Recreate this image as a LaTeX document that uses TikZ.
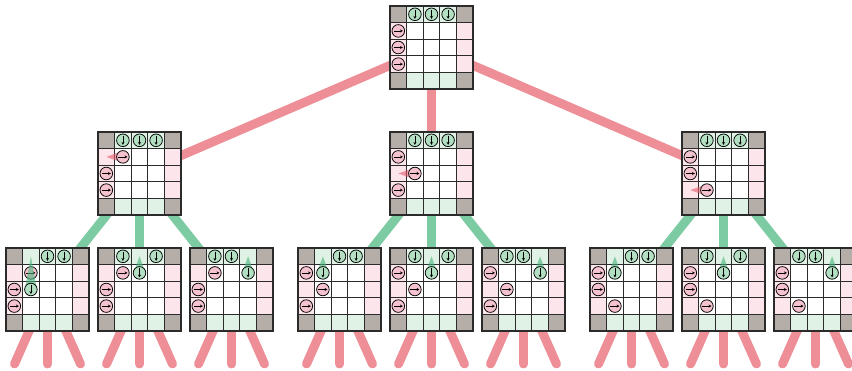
\documentclass[tikz,border=0pt]{standalone}
\usetikzlibrary{arrows.meta}
\definecolor{graycell}{HTML}{B5ADA8}
\definecolor{pinkcell}{HTML}{FCE5EB}
\definecolor{greencell}{HTML}{E0F2E5}
\definecolor{pinkfill}{HTML}{F5C3D0}
\definecolor{greenfill}{HTML}{B3DFC3}
\definecolor{pinkline}{HTML}{EE8F97}
\definecolor{greenline}{HTML}{7DCBA2}
\definecolor{pinktr}{HTML}{E65A6C}
\definecolor{greentr}{HTML}{45B57A}
\definecolor{gridcol}{HTML}{2B2B2B}
\tikzset{
  gridbox/.style={rectangle, minimum size=83pt, inner sep=0pt, outer sep=0pt, draw=none},
  pinkedge/.style={draw=pinkline, line width=9pt},
  greenedge/.style={draw=greenline, line width=9pt},
  leafedge/.style={draw=pinkline, line width=9pt, line cap=round},
  gline/.style={draw=gridcol, line width=1.2pt},
  circ/.style={draw=black, line width=0.75pt},
  arr/.style={draw=black, line width=0.7pt, -{Stealth[length=2.8pt,width=3pt]}},
  pinktrail/.style={fill=pinktr, fill opacity=0.6},
  greentrail/.style={fill=greentr, fill opacity=0.6},
}
\newcommand{\gridbase}{%
  \fill[white] (0,0) rectangle (83,83);
  \fill[graycell] (0,0) rectangle (16.6,16.6) (66.4,0) rectangle (83,16.6)
     (0,66.4) rectangle (16.6,83) (66.4,66.4) rectangle (83,83);
  \fill[greencell] (16.6,0) rectangle (66.4,16.6) (16.6,66.4) rectangle (66.4,83);
  \fill[pinkcell] (0,16.6) rectangle (16.6,66.4) (66.4,16.6) rectangle (83,66.4);
  \foreach \i in {1,...,4} {
    \draw[gline] (\i*16.6,0) -- (\i*16.6,83);
    \draw[gline] (0,\i*16.6) -- (83,\i*16.6);
  }
  \draw[gline] (0,0) rectangle (83,83);
}
\newcommand{\pcirc}[2]{%
  \draw[circ,fill=pinkfill] ({(#1+.5)*16.6},{(#2+.5)*16.6}) circle[radius=6.3];
  \draw[arr] ({(#1+.5)*16.6-4.5},{(#2+.5)*16.6}) -- ++(9,0);}
\newcommand{\gcirc}[2]{%
  \draw[circ,fill=greenfill] ({(#1+.5)*16.6},{(#2+.5)*16.6}) circle[radius=6.3];
  \draw[arr] ({(#1+.5)*16.6},{(#2+.5)*16.6-4.5}) -- ++(0,9);}
% pink trail: row #3, from col #1 to col #2
\newcommand{\ptrail}[3]{%
  \fill[pinktrail] ({(#1+.5)*16.6},{(#3+.5)*16.6}) -- ({(#2+.5)*16.6},{(#3+.5)*16.6-6})
     -- ({(#2+.5)*16.6},{(#3+.5)*16.6+6}) -- cycle;}
% green trail: col #1, from row #2 to row #3
\newcommand{\gtrail}[3]{%
  \fill[greentrail] ({(#1+.5)*16.6},{(#2+.5)*16.6}) -- ({(#1+.5)*16.6-6},{(#3+.5)*16.6})
     -- ({(#1+.5)*16.6+6},{(#3+.5)*16.6}) -- cycle;}
\newcommand{\gridat}[2]{\begin{scope}[shift={(#1.north west)}]\gridbase #2\end{scope}}
\begin{document}
\begin{tikzpicture}[x=1pt,y=-1pt]
\useasboundingbox (0,0) rectangle (852,371);
\clip (0,0) rectangle (852,371);
% grid nodes
\node[gridbox] (t) at (431.5,47.5) {};
\node[gridbox] (a) at (139.5,173.5) {};
\node[gridbox] (b) at (431.5,173.5) {};
\node[gridbox] (c) at (723.5,173.5) {};
\node[gridbox] (A) at (47.5,289.5) {};
\node[gridbox] (B) at (139.5,289.5) {};
\node[gridbox] (C) at (231.5,289.5) {};
\node[gridbox] (D) at (339.5,289.5) {};
\node[gridbox] (E) at (431.5,289.5) {};
\node[gridbox] (F) at (523.5,289.5) {};
\node[gridbox] (G) at (631.5,289.5) {};
\node[gridbox] (H) at (723.5,289.5) {};
\node[gridbox] (I) at (815.5,289.5) {};
% connectors
\draw[pinkedge] (t.center) -- (a.center);
\draw[pinkedge] (t.center) -- (b.center);
\draw[pinkedge] (t.center) -- (c.center);
\foreach \p/\k in {a/A,a/B,a/C,b/D,b/E,b/F,c/G,c/H,c/I}
  \draw[greenedge] (\p.center) -- (\k.center);
\foreach \k/\x in {A/47.5,B/139.5,C/231.5,D/339.5,E/431.5,F/523.5,G/631.5,H/723.5,I/815.5} {
  \coordinate (\k l) at (\x-33,364);
  \coordinate (\k m) at (\x,364);
  \coordinate (\k r) at (\x+33,364);
  \draw[leafedge] (\k.center) -- (\k l);
  \draw[leafedge] (\k.center) -- (\k m);
  \draw[leafedge] (\k.center) -- (\k r);
}
% grids
\gridat{t}{\pcirc{0}{1}\pcirc{0}{2}\pcirc{0}{3}\gcirc{1}{0}\gcirc{2}{0}\gcirc{3}{0}}
\gridat{a}{\pcirc{0}{2}\pcirc{0}{3}\gcirc{1}{0}\gcirc{2}{0}\gcirc{3}{0}\ptrail{0}{1}{1}\pcirc{1}{1}}
\gridat{b}{\pcirc{0}{1}\pcirc{0}{3}\gcirc{1}{0}\gcirc{2}{0}\gcirc{3}{0}\ptrail{0}{1}{2}\pcirc{1}{2}}
\gridat{c}{\pcirc{0}{1}\pcirc{0}{2}\gcirc{1}{0}\gcirc{2}{0}\gcirc{3}{0}\ptrail{0}{1}{3}\pcirc{1}{3}}
% under a
\gridat{A}{\pcirc{1}{1}\pcirc{0}{2}\pcirc{0}{3}\gcirc{2}{0}\gcirc{3}{0}\gtrail{1}{0}{2}\gcirc{1}{2}}
\gridat{B}{\pcirc{1}{1}\pcirc{0}{2}\pcirc{0}{3}\gcirc{1}{0}\gcirc{3}{0}\gtrail{2}{0}{1}\gcirc{2}{1}}
\gridat{C}{\pcirc{1}{1}\pcirc{0}{2}\pcirc{0}{3}\gcirc{1}{0}\gcirc{2}{0}\gtrail{3}{0}{1}\gcirc{3}{1}}
% under b
\gridat{D}{\pcirc{0}{1}\pcirc{1}{2}\pcirc{0}{3}\gcirc{2}{0}\gcirc{3}{0}\gtrail{1}{0}{1}\gcirc{1}{1}}
\gridat{E}{\pcirc{0}{1}\pcirc{1}{2}\pcirc{0}{3}\gcirc{1}{0}\gcirc{3}{0}\gtrail{2}{0}{1}\gcirc{2}{1}}
\gridat{F}{\pcirc{0}{1}\pcirc{1}{2}\pcirc{0}{3}\gcirc{1}{0}\gcirc{2}{0}\gtrail{3}{0}{1}\gcirc{3}{1}}
% under c
\gridat{G}{\pcirc{0}{1}\pcirc{0}{2}\pcirc{1}{3}\gcirc{2}{0}\gcirc{3}{0}\gtrail{1}{0}{1}\gcirc{1}{1}}
\gridat{H}{\pcirc{0}{1}\pcirc{0}{2}\pcirc{1}{3}\gcirc{1}{0}\gcirc{3}{0}\gtrail{2}{0}{1}\gcirc{2}{1}}
\gridat{I}{\pcirc{0}{1}\pcirc{0}{2}\pcirc{1}{3}\gcirc{1}{0}\gcirc{2}{0}\gtrail{3}{0}{1}\gcirc{3}{1}}
\end{tikzpicture}
\end{document}
